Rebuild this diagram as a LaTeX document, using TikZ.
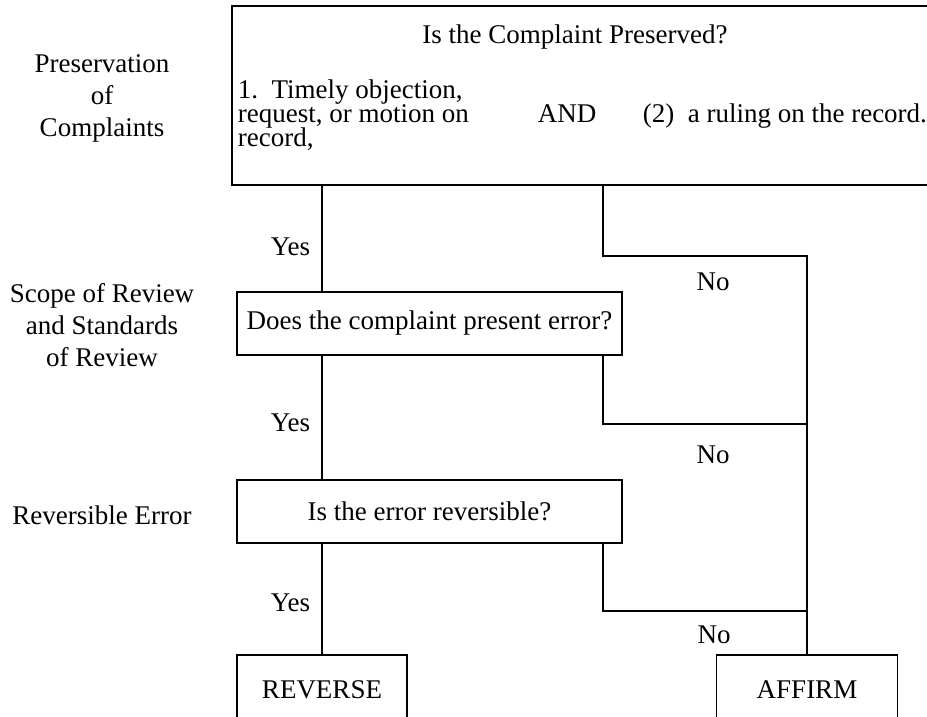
\documentclass[tikz,border=0pt]{standalone}
\usepackage{fontspec}
\setmainfont{Liberation Serif}
\newcommand{\tightfont}{\fontsize{13.5}{12}\selectfont\setlength{\lineskiplimit}{-20pt}}

\begin{document}
\begin{tikzpicture}[x=0.5pt, y=-0.5pt, line width=0.8pt,
  box/.style={draw, inner sep=0pt, font=\fontsize{13.5}{16}\selectfont},
  txt/.style={inner sep=0pt, font=\fontsize{13.5}{16}\selectfont},
  tight/.style={inner sep=0pt, align=left, font=\tightfont},
  lab/.style={inner sep=0pt, align=center, font=\fontsize{13.5}{16}\selectfont}]
\useasboundingbox (0,0) rectangle (927,717);
\clip (0,0) rectangle (927,717);
\node[box, minimum width=354pt, minimum height=89.5pt] (pres) at (586,95.5) {};
\node[txt] (ttl) at (575,37) {Is the Complaint Preserved?};
\node[tight, anchor=base west] (req) at (237,147) {1.\ \ Timely objection,\\request, or motion on\\record,};
\node[txt, anchor=base west] (and) at (537,123) {AND};
\node[txt, anchor=base west] (rul) at (642,123) {(2)\ \ a ruling on the record.};
\node[box, minimum width=192.5pt, minimum height=31.5pt] (q2) at (429.5,323.5) {Does the complaint present error?};
\node[box, minimum width=192.5pt, minimum height=31.5pt] (q3) at (429.5,511.5) {Is the error reversible?};
\node[box, minimum width=85pt, minimum height=35pt] (rev) at (322,690) {REVERSE};
\node[box, minimum width=90.5pt, minimum height=35pt] (aff) at (807,690) {AFFIRM};
\node[lab] (lpres) at (102,98) {Preservation\\of\\Complaints};
\node[lab] (lscope) at (102,325) {Scope of Review\\and Standards\\of Review};
\node[lab] (lrev) at (102,515) {Reversible Error};
\coordinate (j1) at (603,256);
\coordinate (j2) at (603,424);
\coordinate (j3) at (603,611);
\draw (pres.south -| rev.north) -- (q2.north -| rev.north);
\draw (q2.south -| rev.north) -- (q3.north -| rev.north);
\draw (q3.south -| rev.north) -- (rev.north);
\draw (pres.south -| j1) |- (j1 -| aff.north) -- (aff.north);
\draw (q2.south -| j2) |- (j2 -| aff.north);
\draw (q3.south -| j3) |- (j3 -| aff.north);
\node[lab, anchor=east] (yes1) at (311,247) {Yes};
\node[lab, anchor=east] (yes2) at (311,423) {Yes};
\node[lab, anchor=east] (yes3) at (311,603) {Yes};
\node[lab] (no1) at (713,282) {No};
\node[lab] (no2) at (713,455) {No};
\node[lab] (no3) at (714,635) {No};
\end{tikzpicture}
\end{document}
